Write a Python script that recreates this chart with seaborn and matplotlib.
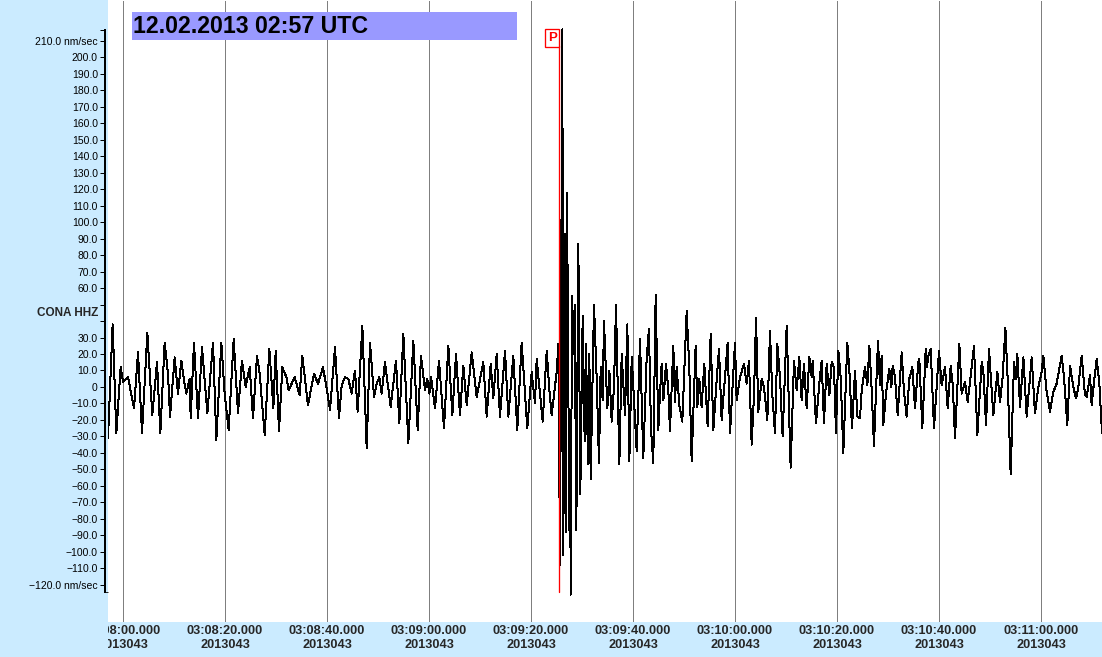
import pandas as pd
import seaborn as sns
import matplotlib.pyplot as plt
from matplotlib.patches import Rectangle
from matplotlib.transforms import Bbox, TransformedBbox, blended_transform_factory

# seconds after 03:08:00 UTC, ground velocity in nm/s
trace_t = [
    -2.94, -2.03, -1.31, -0.46, 0.0, 0.98, 2.16, 2.94, 3.73, 4.77, 5.75, 6.67, 7.32, 8.17, 8.82, 9.22,
    10.13, 10.78, 11.44, 11.96, 12.42, 13.07, 13.27, 13.92, 14.71, 15.49, 16.54, 17.65, 18.3, 19.28,
    19.93, 20.72, 21.7, 22.55, 23.33, 24.05, 24.84, 25.49, 26.27, 26.8, 27.78, 28.7, 29.48, 29.94,
    30.59, 31.24, 32.03, 32.48, 33.66, 34.64, 35.16, 36.27, 37.45, 38.24, 39.22, 40.2,
    40.59, 41.57, 42.35, 42.88, 43.53, 44.18, 44.84, 45.49, 46.01, 46.93, 47.78, 48.43, 49.22, 49.74,
    50.26, 50.72, 51.37, 52.48, 53.53, 54.18, 54.97, 55.95, 56.93, 57.78, 58.43, 59.22, 59.67, 60.07,
    60.4, 61.18, 61.96, 62.94, 63.79, 64.58, 65.29, 66.08, 66.73, 67.39, 68.37, 69.35, 70.65, 71.31,
    72.1, 72.61, 73.27, 73.92, 74.9, 75.55, 76.53, 77.31, 78.17, 79.27, 80.13, 80.78,
    81.11, 82.29, 83.08, 83.6, 84.05, 85.03, 85.36, 85.69, 86.14, 86.34, 86.6, 86.8, 87.06, 87.52,
    87.65, 87.78, 88.04, 88.3, 88.56, 88.89, 89.28, 89.67, 90.13, 90.52, 90.78, 91.18, 91.44, 91.7,
    92.35, 92.88, 93.33, 93.66, 94.05, 94.31, 94.97, 95.37, 95.82, 96.27, 96.67, 97.32, 97.78, 98.43,
    98.89, 99.28, 99.75, 100.73, 101.37,
    102.02, 102.68, 103.13, 103.53, 103.98, 104.44, 104.96, 105.29, 105.62, 105.95, 106.47, 106.93,
    107.25, 107.9, 108.23, 108.56, 109.08, 109.67, 110.0, 110.52, 111.04, 111.5, 112.28, 112.61, 113.0,
    113.46, 113.98, 114.64, 115.23, 115.75, 116.4, 116.86, 117.38, 118.04, 118.56, 119.02, 120.0,
    120.32, 120.98, 121.76, 122.29, 122.74, 123.27, 123.72, 124.12, 124.57, 125.23, 125.68, 126.34,
    126.86, 127.32, 127.84, 128.3, 128.82, 129.34, 130.13, 130.91, 131.57, 132.09, 132.61, 133.07,
    133.53, 134.05, 134.57, 135.03, 135.23, 135.88, 136.53, 136.99, 137.45, 137.97, 138.5, 138.95,
    139.41, 139.8, 140.26, 140.72, 141.24, 142.02, 142.42, 142.94, 143.53, 143.99,
    144.51, 144.84, 145.49, 145.95, 146.34, 146.8, 147.25, 147.65, 148.04, 148.43, 148.76, 149.08,
    149.61, 150.26, 150.65, 150.92, 151.37, 151.9, 152.68, 153.14, 153.66, 154.18, 154.77, 155.29,
    155.95, 156.14, 156.73, 157.39, 157.65, 157.91, 158.37, 159.02, 160.0, 160.52, 161.18, 161.7,
    162.29, 162.68, 163.14, 163.99, 164.44, 165.1, 165.62, 166.08, 166.86, 167.52, 168.37, 168.69,
    169.22, 169.8, 170.65, 171.44, 171.96, 172.48, 173.01, 173.46, 174.05, 174.71, 175.03, 175.36,
    175.88, 176.54, 177.19, 178.17, 178.82, 179.48, 180.13, 180.46, 181.11, 181.76, 182.42, 183.07,
    184.05, 184.51, 185.16, 185.69, 186.34, 186.86, 187.32, 187.97, 188.63, 188.95, 189.61, 189.93,
    190.46, 190.92, 191.44, 191.96,
]
trace_nm = [
    -31, 38, -28, 12, 3, 6, -13, 21, -28, 33, -17, 15, -28, 27, 8, -18,
    18, -4, 16, 4, -4, 5, -19, 27, -19, 24, -16, 27, -32, 27,
    -4, -26, 29, -16, 16, 0, 12, -19, 19, 8, -29, 23, -13, 22,
    -27, 12, 6, -2, 6, -5, 19, -11, 8, 2, 12, -6,
    -14, 24, -19, 1, 6, 5, -4, 10, -15, 37, -37, 27, -6, 2,
    6, -4, 15, -12, 16, -22, 32, -34, 28, -26, 19, -2, 5, -4,
    6, -13, 16, -25, 25, -17, 20, -17, 13, -11, 21, -6, 15, -18,
    14, -7, 20, -18, 22, -18, 19, -26, 27, -25, 9, -10,
    17, -21, 22, -2, -17, 9, 26, -108, 217, -102, 93, -88, 118, -87,
    -20, -126, 55, 20, 50, -87, 87, -65, 43, -33, 26, -47, 20, -56,
    50, 5, -46, 12, -8, 40, -13, 10, -21, 0, 50, -47, 20, -17,
    38, -45, 18, -39, 29,
    -43, 18, 35, -26, -46, 56, -26, -4, 14, -8, 14, -2,
    -27, 25, -9, 12, -11, -21, 5, 46, 12, -45, 25, -12, 5,
    -12, 14, -24, 32, -26, 4, 23, -20, 6, 27, -28, 27,
    -8, 6, 14, 2, 16, -35, -5, 42, -15, 5, 0, -20,
    34, -5, -28, 26, 6, -30, 37, -49, 16, -2, 18, -8,
    14, -13, 18, 6, 16, -22, 2, 16, -22, 14, -5, 15,
    12, -28, 22, 6, -40, 27, 10, -25, 10, -18,
    -19, -2, 12, 1, 25, -2, -36, -2, 28, 1, 19, -23,
    -4, 11, 0, 13, 6, -17, 21, -3, -18, 5, 12, -13,
    15, 17, -25, 23, 12, 19, 23, -25, 22, 1, 12, -13,
    13, 2, -31, 26, -4, 3, -9, 3, 25, -29, 15, 10,
    -23, 23, -17, 9, -9, 6, 36, 5, -53, 15, 5, 20,
    -12, 18, -18, 18, -16, 0, 9, 19, -3, -15, -3, 2,
    19, 6, -23, 13, 0, -7, 0, 19, -5, -6, 7, -11,
    5, 17, 2, -28,
]

p_pick = 85.55
title = "12.02.2013 02:57 UTC"
channel = "CONA HHZ"

x_ticks = [0, 20, 40, 60, 80, 100, 120, 140, 160, 180]
x_labels = [
    "03:08:00.000\n2013043", "03:08:20.000\n2013043", "03:08:40.000\n2013043",
    "03:09:00.000\n2013043", "03:09:20.000\n2013043", "03:09:40.000\n2013043",
    "03:10:00.000\n2013043", "03:10:20.000\n2013043", "03:10:40.000\n2013043",
    "03:11:00.000\n2013043",
]
y_ticks = [-120, -110, -100, -90, -80, -70, -60, -50, -40, -30, -20, -10, 0,
           10, 20, 30, 40, 50, 60, 70, 80, 90, 100, 110, 120, 130, 140, 150,
           160, 170, 180, 190, 200, 210, 216.6]
y_labels = ["\u2212120.0 nm/sec", "\u2212110.0", "\u2212100.0", "\u221290.0", "\u221280.0",
            "\u221270.0", "\u221260.0", "\u221250.0", "\u221240.0", "\u221230.0", "\u221220.0",
            "\u221210.0", "0", "10.0", "20.0", "30.0", "", "", "60.0", "70.0", "80.0", "90.0",
            "100.0", "110.0", "120.0", "130.0", "140.0", "150.0", "160.0", "170.0", "180.0",
            "190.0", "200.0", "210.0 nm/sec", ""]

BG = "#cbebff"
BOX = "#9999ff"
PX = 0.72  # one pixel in points at 100 dpi

sns.set_style("white")
plt.rcParams['font.family'] = ['Liberation Sans', 'DejaVu Sans']

fig = plt.figure(figsize=(11.02, 6.57), dpi=100, facecolor=BG)
ax = fig.add_axes([108 / 1102, 35 / 657, 994 / 1102, 622 / 657])
ax.set_facecolor("white")

df = pd.DataFrame({"t": trace_t, "nm": trace_nm})
sns.lineplot(data=df, x="t", y="nm", ax=ax, color="black", linewidth=PX,
             estimator=None, sort=False, antialiased=False, zorder=2)

ax.set_xlim(-2.94, 191.96)
ax.set_ylim(-142.6, 234.8)
ax.set_xlabel("")
ax.set_ylabel("")

# time axis: dotted grid + two-line bold labels, clipped at the blue side panel
ax.set_xticks(x_ticks, x_labels, fontweight="bold", linespacing=1.22)
ax.tick_params(axis="x", length=0, pad=2.5, labelsize=9.2, bottom=False)
ax.grid(axis="x", color="black", linestyle=(0, (1, 1)), linewidth=PX)
ax.set_axisbelow(True)
clip = TransformedBbox(Bbox([[108 / 1102, 0], [1, 1]]), fig.transFigure)
for lab in ax.get_xticklabels():
    lab.set_clip_box(clip)
    lab.set_clip_on(True)

# amplitude axis sits in the side panel
for s in ["top", "right", "bottom"]:
    ax.spines[s].set_visible(False)
ax.spines["left"].set_position(("outward", 2.5))
ax.spines["left"].set_linewidth(2 * PX)
ax.spines["left"].set_color("black")
ax.spines["left"].set_bounds(-124.4, 216.6)
ax.set_yticks(y_ticks, y_labels)
ax.set_yticks([-124.4], minor=True)
ax.tick_params(axis="y", which="major", left=True, length=3.3, width=PX,
               direction="out", pad=1.5, labelsize=7.5, colors="black")
ax.tick_params(axis="y", which="minor", left=True, length=2.5, width=PX, direction="in")

ax.text(-0.0095, 45, channel, transform=blended_transform_factory(ax.transAxes, ax.transData),
        ha="right", va="center", fontsize=8.5, fontweight="bold")

# header box
ax.add_patch(Rectangle((0.0241, 0.935), 0.3874, 0.0457, transform=ax.transAxes,
                       facecolor=BOX, edgecolor="none", zorder=3))
ax.text(0.0252, 0.958, title, transform=ax.transAxes, ha="left", va="center",
        fontsize=16.7, fontweight="bold", color="black", zorder=4)

# P pick
ax.axvline(p_pick, ymin=0.048, ymax=0.926, color="#ff0000", linewidth=0.95, zorder=3)
ax.annotate("P", xy=(p_pick, 0.939), xycoords=blended_transform_factory(ax.transData, ax.transAxes),
            xytext=(-5.0, 0), textcoords="offset points", ha="center", va="center",
            fontsize=9.5, fontweight="bold", color="#ff0000", zorder=4,
            bbox=dict(boxstyle="square,pad=0.2", facecolor="white", edgecolor="#ff0000",
                      linewidth=0.95))

fig.savefig("out.png", dpi=100, facecolor=fig.get_facecolor())
